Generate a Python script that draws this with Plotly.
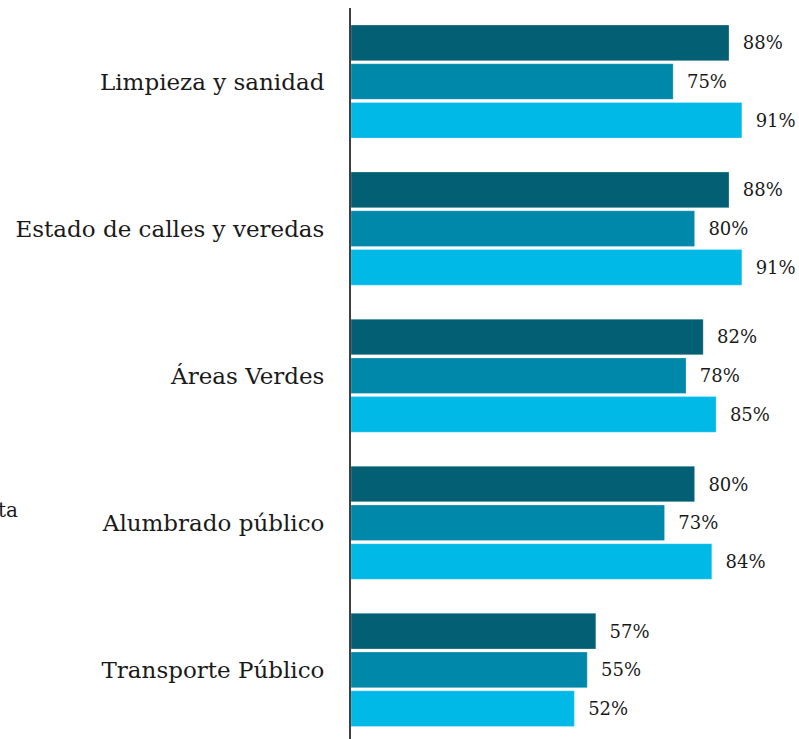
import plotly.graph_objects as go

categories = ["Limpieza y sanidad", "Estado de calles y veredas", "Áreas Verdes",
              "Alumbrado público", "Transporte Público"]
serie_1 = [88, 88, 82, 80, 57]
serie_2 = [75, 80, 78, 73, 55]
serie_3 = [91, 91, 85, 84, 52]
series_names = ["Serie 1", "Serie 2", "Serie 3"]
colors = ["#035F74", "#0088AB", "#00B9E7"]

FONT = "DejaVu Serif"

fig = go.Figure()
for name, vals, col in zip(series_names, [serie_1, serie_2, serie_3], colors):
    fig.add_trace(go.Bar(
        y=categories, x=vals, name=name, orientation="h",
        marker=dict(color=col, line=dict(color="rgba(255,255,255,0.5)", width=0.5)),
        text=vals,
        texttemplate="\u2002\u200a%{x}%",
        textposition="outside",
        textfont=dict(family=FONT, size=18, color="#1a1a1a"),
        cliponaxis=False,
    ))

fig.update_layout(
    width=799, height=739,
    barmode="group", bargap=0.21, bargroupgap=0.08,
    margin=dict(l=351, r=0, t=8, b=0, autoexpand=False),
    plot_bgcolor="white", paper_bgcolor="white",
    showlegend=False,
    font=dict(family=FONT, color="#1a1a1a"),
    xaxis=dict(range=[0, 104.3], visible=False, showgrid=False, zeroline=False),
    yaxis=dict(
        range=[4.47, -0.50], showgrid=False, zeroline=False,
        showline=True, linecolor="#404040", linewidth=2,
        ticks="", ticklabelstandoff=20,
        tickfont=dict(family=FONT, size=23, color="#1a1a1a"),
    ),
    annotations=[dict(
        text="ta", xref="paper", yref="paper", x=-0.7388, y=0.313,
        xanchor="right", yanchor="middle", showarrow=False,
        font=dict(family=FONT, size=20, color="#1a1a1a"),
    )],
)

fig.write_html("out.html", config={"displayModeBar": False},
               post_script="document.body.style.margin='0';")
